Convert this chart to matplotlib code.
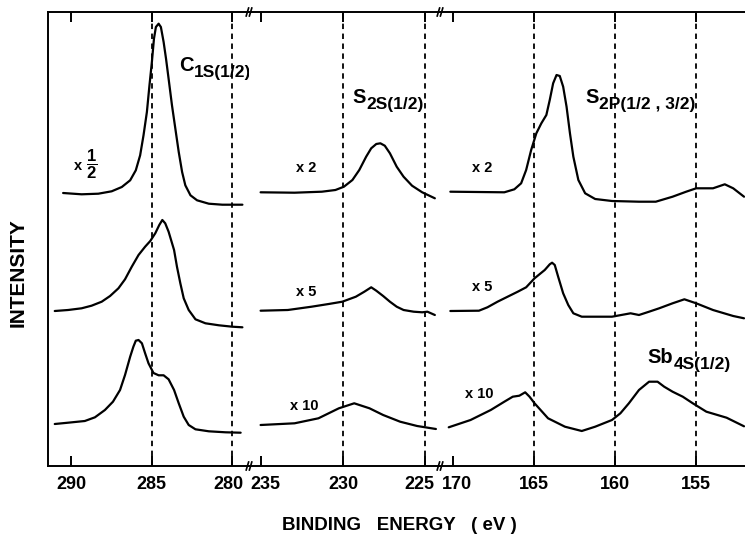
import matplotlib.pyplot as plt
from matplotlib.lines import Line2D
from matplotlib.transforms import ScaledTranslation

plt.rcParams['font.family'] = ['Liberation Sans', 'DejaVu Sans']
plt.rcParams['font.weight'] = 'bold'
plt.rcParams['mathtext.fontset'] = 'custom'
plt.rcParams['mathtext.rm'] = 'Liberation Sans:bold'
plt.rcParams['mathtext.bf'] = 'Liberation Sans:bold'

# ---- C 1s region (eV, arbitrary intensity) ----
c1s_top_ev = [290.5, 289.35, 288.31, 287.48, 286.85, 286.33, 285.98, 285.71, 285.5, 285.29,
              285.13, 284.98, 284.85, 284.73, 284.56, 284.42, 284.25, 284.1, 283.94, 283.73,
              283.52, 283.31, 283.1, 282.9, 282.58, 282.17, 281.44, 280.6, 279.35]
c1s_top = [273, 271.7, 272.3, 274.7, 279, 285.7, 295.7, 310.7, 330.7, 354, 380.7, 404, 427.3,
           439, 442.3, 439, 424, 407.3, 387.3, 360.7, 337.3, 314, 294, 280.7, 270.7, 265.7,
           262.3, 261.3, 261.3]

c1s_mid_ev = [291.02, 290.19, 289.35, 288.73, 288.1, 287.58, 287.06, 286.65, 286.23, 285.81,
              285.4, 285.08, 284.77, 284.52, 284.33, 284.15, 283.94, 283.6, 283.42, 283.21,
              283.0, 282.69, 282.27, 281.65, 280.81, 279.98, 279.35]
c1s_mid = [155, 156, 157.7, 160.3, 164.3, 170, 177.7, 186.7, 199.3, 211, 219.3, 225, 232.7,
           241, 246, 242.7, 234.3, 216, 199.3, 182.7, 167.7, 156, 146.7, 142.7, 140.7, 139.3,
           138.7]

c1s_bot_ev = [291.02, 290.19, 289.15, 288.52, 287.9, 287.4, 286.96, 286.65, 286.33, 286.13,
              285.98, 285.81, 285.6, 285.4, 285.19, 284.88, 284.56, 284.25, 283.94, 283.6,
              283.31, 283.0, 282.69, 282.27, 281.44, 280.4, 279.46]
c1s_bot = [42, 43.3, 45, 48.7, 56, 64.3, 76, 91, 109.3, 119.3, 125.3, 126, 122.7, 112.7,
           102.7, 93, 90.7, 90.7, 86.7, 76, 62.7, 49.3, 41, 36.7, 34.7, 33.7, 33.3]

# ---- S 2s region ----
s2s_top_ev = [235.04, 232.96, 231.29, 230.46, 229.94, 229.42, 229.0, 228.58, 228.27, 227.96,
              227.71, 227.44, 227.125, 226.71, 226.29, 225.77, 225.15, 224.375]
s2s_top = [273.7, 273.3, 274.3, 276, 279.3, 286, 296, 309.3, 317.7, 322, 322.7, 320.3, 312.7,
           299.3, 289.3, 280.3, 273.7, 267.7]

s2s_mid_ev = [235.04, 233.375, 231.92, 230.875, 230.04, 229.21, 228.69, 228.27, 227.96,
              227.54, 227.125, 226.71, 226.29, 225.67, 225.15, 224.83, 224.375]
s2s_mid = [155.3, 156, 159.3, 162, 164.3, 169.3, 174.3, 178.7, 175.3, 170, 164.3, 159.3, 156,
           154.3, 153.7, 154.3, 151]

s2s_bot_ev = [235.04, 232.96, 231.5, 230.25, 229.31, 228.375, 227.54, 226.5, 225.46, 224.31]
s2s_bot = [41, 42.7, 47.7, 57.7, 62.7, 57.7, 51, 44.3, 40, 37]

# ---- S 2p / Sb 4s region ----
s2p_top_ev = [170.17, 166.83, 166.21, 165.79, 165.48, 165.17, 164.85, 164.54, 164.23, 164.02,
              163.81, 163.6, 163.4, 163.19, 162.98, 162.77, 162.56, 162.25, 161.83, 161.21,
              160.17, 158.5, 157.46, 156.42, 155.58, 154.96, 153.92, 153.19, 152.67, 152.0]
s2p_top = [274.3, 273.7, 276.7, 282.7, 296, 316, 332.7, 342.7, 351, 366, 382.7, 391, 390,
           379.3, 359.3, 332.7, 309.3, 286, 272.7, 267, 265, 264.3, 264.3, 269.3, 274.3,
           277.7, 277.7, 281.7, 277.7, 269.3]

s2p_mid_ev = [170.17, 168.4, 167.875, 167.25, 166.625, 166.0, 165.48, 164.96, 164.33, 164.02,
              163.875, 163.71, 163.5, 163.19, 162.875, 162.56, 162.04, 160.17, 159.02, 158.5,
              157.875, 157.25, 156.42, 155.69, 154.96, 153.92, 152.67, 152.0]
s2p_mid = [155, 155.3, 158.7, 164.3, 169.3, 174.3, 178.7, 187.7, 196, 201.7, 203.3, 201,
           189.3, 172.7, 161, 152.7, 149.3, 149.3, 152.7, 151, 154.3, 157.7, 162.7, 166.7,
           162.7, 156, 150, 147.7]

s2p_bot_ev = [170.27, 168.92, 167.67, 166.83, 166.31, 165.9, 165.54, 165.27, 164.96, 164.125,
              163.08, 162.04, 161.21, 160.17, 159.65, 159.125, 158.5, 157.875, 157.35, 156.94,
              156.42, 155.79, 155.17, 154.33, 153.08, 152.0]
s2p_bot = [38.7, 46, 56, 64.3, 69.3, 70.3, 73.7, 69.3, 62.7, 47.7, 39.3, 35, 39.3, 46, 52.7,
           62.7, 76, 84.3, 84.3, 79.3, 74.3, 69.3, 62.7, 54.3, 48.3, 39.7]

xlims = [(291.44, 278.94), (235.75, 224.06), (170.81, 151.94)]
ticks = [[290, 285, 280], [235, 230, 225], [170, 165, 160, 155]]
dashes = [[285, 280], [230, 225], [165, 160, 155]]
# small sideways nudges (px) of tick labels next to the breaks
label_shift = [[0, 0, -4], [4, 0, -5], [4, 0, 0, 0]]

W, H = 745, 535
fig = plt.figure(figsize=(W / 100, H / 100), dpi=100)

edges = [48, 249, 440, 745]
bottom, top = 466, 12
axes = []
for i in range(3):
    ax = fig.add_axes([edges[i] / W, 1 - bottom / H, (edges[i + 1] - edges[i]) / W, (bottom - top) / H])
    ax.set_xlim(*xlims[i])
    ax.set_ylim(0, 454)
    ax.set_xticks(ticks[i])
    ax.set_yticks([])
    ax.tick_params(axis='x', direction='in', top=True, length=7, width=1.4, labelsize=13, pad=7)
    for lab, sh in zip(ax.get_xticklabels(), label_shift[i]):
        lab.set_fontweight('bold')
        lab.set_transform(lab.get_transform() + ScaledTranslation(sh / 100, 0, fig.dpi_scale_trans))
    ax.spines['right'].set_visible(False)
    if i > 0:
        ax.spines['left'].set_visible(False)
    for s in ax.spines.values():
        s.set_linewidth(1.4)
    for d in dashes[i]:
        ax.axvline(d, color='black', lw=1.3, ls=(0, (3, 2.5)), zorder=1)
    axes.append(ax)

ax1, ax2, ax3 = axes
kw = dict(color='black', lw=1.6, solid_joinstyle='round', solid_capstyle='round', zorder=3)
ax1.plot(c1s_top_ev, c1s_top, **kw)
ax1.plot(c1s_mid_ev, c1s_mid, **kw)
ax1.plot(c1s_bot_ev, c1s_bot, **kw)
ax2.plot(s2s_top_ev, s2s_top, **kw)
ax2.plot(s2s_mid_ev, s2s_mid, **kw)
ax2.plot(s2s_bot_ev, s2s_bot, **kw)
ax3.plot(s2p_top_ev, s2p_top, **kw)
ax3.plot(s2p_mid_ev, s2p_mid, **kw)
ax3.plot(s2p_bot_ev, s2p_bot, **kw)


def peak_label(ax, x, y, main, sub):
    t = ax.text(x, y, main, fontsize=14.5, fontweight='bold', ha='left', va='baseline')
    ax.annotate(sub, xy=(1, 0), xycoords=t, xytext=(0.5, -1.5), textcoords='offset points',
                fontsize=12.5, fontweight='bold', ha='left', va='baseline')


peak_label(ax1, 283.31, 395, 'C', '1S(1/2)')
peak_label(ax2, 229.44, 363, 'S', '2S(1/2)')
peak_label(ax3, 161.83, 363, 'S', '2P(1/2 , 3/2)')
peak_label(ax3, 157.98, 103, 'Sb', '4S(1/2)')

sk = dict(fontsize=10.5, fontweight='bold', ha='left', va='center')
ax1.text(289.85, 300, 'x', **sk)
ax1.text(289.1, 302, r'$\mathbf{\dfrac{1}{2}}$', fontsize=12, ha='left', va='center')
ax2.text(232.875, 298.5, 'x 2', **sk)
ax3.text(168.81, 298.5, 'x 2', **sk)
ax2.text(232.875, 174, 'x 5', **sk)
ax3.text(168.81, 179, 'x 5', **sk)
ax2.text(233.25, 60, 'x 10', **sk)
ax3.text(169.25, 72, 'x 10', **sk)

# break marks on top and bottom axis lines
for xb in (edges[1], edges[2]):
    for yb in (bottom, top):
        for off in (-1.6, 1.6):
            fig.add_artist(Line2D([(xb + off - 1.2) / W, (xb + off + 1.2) / W],
                                  [1 - (yb + 4) / H, 1 - (yb - 4) / H],
                                  color='black', lw=1.2))

fig.text(18 / W, 1 - 273 / H, 'INTENSITY', rotation=90, fontsize=15, fontweight='bold',
         ha='center', va='center')
fig.text(399 / W, 1 - 526 / H, 'BINDING   ENERGY   ( eV )', fontsize=13.5, fontweight='bold',
         ha='center', va='center')

fig.savefig('out.png', dpi=100)
